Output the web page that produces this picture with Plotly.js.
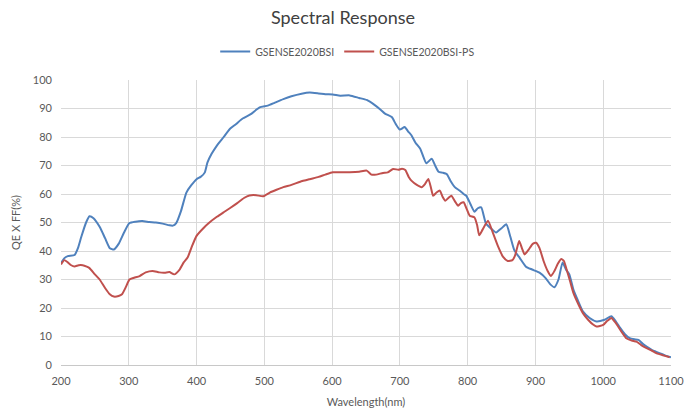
<!DOCTYPE html>
<html>
<head>
<meta charset="utf-8">
<script src="https://cdn.plot.ly/plotly-3.0.1.min.js"></script>
<style>html,body{margin:0;padding:0;background:#fff;}#chart{width:686px;height:416px;}</style>
</head>
<body>
<div id="chart"></div>
<script>
const bsiWavelength = [200,205,210,220,225,230,237,242,248,257,265,272,278,285,293,301,310,320,330,340,350,360,365,370,377,385,392,400,406,412,416,422,430,440,449,458,468,480,493,505,515,528,540,555,567,580,590,601,612,626,640,651,663,672,678,688,694,700,707,712,717,723,730,739,747,752,757,763,769,775,781,788,794,798,804,810,815,820,827,835,842,850,857,863,869,877,886,895,906,915,922,928,934,940,945,950,956,962,970,980,990,1002,1012,1018,1025,1032,1039,1046,1052,1058,1064,1074,1084,1092,1100];
const bsiQE = [35.8,37.5,38.2,38.6,41,45,50,52.2,51.5,48.5,44.5,41,40.5,42.5,46.5,49.8,50.3,50.5,50.2,50,49.6,49,48.9,49.8,54,60.5,63,65.2,66,67.5,71,74,77,80,82.8,84.5,86.5,88,90.4,91,92,93.3,94.3,95.2,95.6,95.3,95,94.9,94.5,94.6,93.7,93,91.2,89.5,88.2,87,84.5,82.6,83.5,82,80.6,78,75.9,70.8,72.4,70,67.8,67.5,67,64.5,62.4,61.2,60,59.4,56.5,53.8,55,55.3,49.6,47.8,46.5,48,49.4,45,40.2,37.5,34.5,33.5,32.4,30.5,28.3,27.3,30,36,33.5,31.8,26.5,23,18.8,16.5,15.3,15.9,17.1,15.5,13,10.8,9.4,9,8.8,7.5,6.5,5,4.1,3.3,2.7];

const psWavelength = [200,205,210,215,220,226,232,238,242,250,257,265,272,278,285,290,296,301,308,316,325,335,345,353,360,367,375,381,387,393,400,410,419,430,440,449,460,470,478,488,498,508,518,528,540,553,567,580,590,601,614,626,640,651,658,665,675,682,690,698,703,708,713,717,725,732,737,742,746,749,754,759,763,767,772,776,781,786,790,794,799,803,810,814,817,822,830,837,845,852,859,866,870,876,880,884,890,896,901,906,912,918,923,928,933,938,942,946,951,956,963,970,978,985,990,1000,1006,1012,1017,1022,1028,1034,1042,1049,1056,1064,1072,1079,1090,1098];
const psQE = [35.3,36.8,36,35,34.6,35,35,34.5,34,31.8,30,27,24.8,24,24.2,24.8,27.5,30,30.6,31.2,32.5,33,32.5,32.4,32.6,31.8,33.5,36,37.8,41.5,45.3,48,50,52,53.6,55,56.8,58.6,59.5,59.6,59.2,60.5,61.5,62.4,63.2,64.3,65.2,66,66.8,67.6,67.6,67.6,67.8,68.2,66.8,66.8,67.4,67.6,68.8,68.5,68.9,68.4,66,64.7,63.2,62.4,63.5,65.3,62,59.4,60.5,61.2,59,57.6,58.7,59.4,57.5,55.9,56.8,57.1,54.5,52.4,51.8,49,45.5,47.5,50.6,46.5,41.5,38,36.5,36.8,38.5,43.5,41,38.8,40.5,42.5,42.9,41,36.5,33,31.2,33,35.5,37.2,36.5,33.5,29.5,25.3,21.5,18.2,15.8,14.2,13.5,14.1,15.5,16.5,15.2,13.5,11.3,9.4,8.6,8.2,7,5.9,5,4.1,3.3,2.7];

const seriesNames = ['GSENSE2020BSI', 'GSENSE2020BSI-PS'];
const xTickValues = [200,300,400,500,600,700,800,900,1000,1100];
const yTickValues = [0,10,20,30,40,50,60,70,80,90,100];

const FONT = 'Lato, "Open Sans", sans-serif';

const traces = [
  {x: bsiWavelength, y: bsiQE, name: seriesNames[0], type: 'scatter', mode: 'lines',
   line: {color: '#4f81bd', width: 2, shape: 'spline', smoothing: 0.5}},
  {x: psWavelength, y: psQE, name: seriesNames[1], type: 'scatter', mode: 'lines',
   line: {color: '#c0504d', width: 2, shape: 'spline', smoothing: 0.5}}
];

const layout = {
  width: 686, height: 416,
  margin: {l: 61, r: 15, t: 80, b: 51},
  paper_bgcolor: '#ffffff', plot_bgcolor: '#ffffff',
  font: {family: FONT, color: '#595959', size: 11},
  title: {text: 'Spectral Response', x: 0.5, xanchor: 'center', y: 0.957, yanchor: 'middle',
          font: {family: FONT, size: 18, color: '#404040'}},
  showlegend: true,
  legend: {orientation: 'h', x: 0.47, xanchor: 'center', y: 1.1, yanchor: 'middle',
           font: {family: FONT, size: 10.5, color: '#595959'}, itemwidth: 30, bgcolor: 'rgba(0,0,0,0)'},
  xaxis: {range: [200, 1100], tickvals: xTickValues, ticktext: xTickValues.map(String),
          showgrid: true, gridcolor: '#d9d9d9', gridwidth: 1, zeroline: false,
          showline: false, ticks: '', ticklabelstandoff: 8, tickfont: {size: 11, color: '#595959'},
          title: {text: 'Wavelength(nm)', font: {size: 11, color: '#595959'}, standoff: 12}},
  yaxis: {range: [0, 100], tickvals: yTickValues, ticktext: yTickValues.map(String),
          showgrid: true, gridcolor: '#d9d9d9', gridwidth: 1, zeroline: true, zerolinecolor: '#c8c8c8', zerolinewidth: 1,
          showline: false, ticks: '', ticklabelstandoff: 8, tickfont: {size: 11, color: '#595959'},
          title: {text: 'QE X FF(%)', font: {size: 11, color: '#595959'}, standoff: 10}}
};

Plotly.newPlot('chart', traces, layout, {displayModeBar: false, staticPlot: true});
</script>
</body>
</html>
